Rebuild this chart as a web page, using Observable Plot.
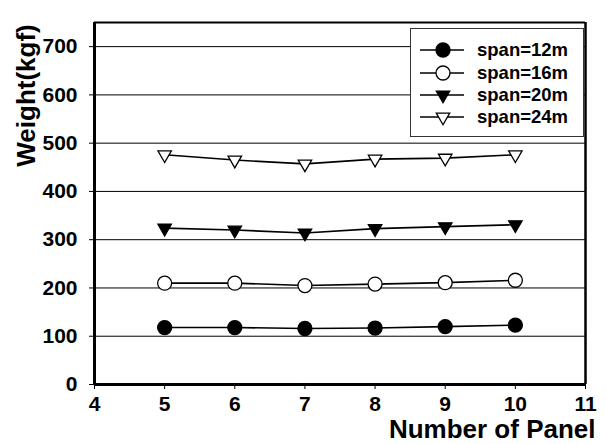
<!DOCTYPE html>
<html><head><meta charset="utf-8">
<script src="https://cdn.jsdelivr.net/npm/d3@7"></script>
<script src="https://cdn.jsdelivr.net/npm/@observablehq/plot@0.6"></script>
<style>
body{margin:0;background:#fff;font-family:"Liberation Sans",Arial,sans-serif;}
#wrap{position:relative;width:606px;height:444px;}
#legend{position:absolute;left:410px;top:28px;width:174px;height:109px;border:1px solid #333;background:#fff;box-sizing:border-box;padding-top:10px;}
.row{display:flex;align-items:center;height:22.4px;}
.row span{font-weight:bold;font-size:18.5px;margin-left:8px;}
</style></head><body>
<div id="wrap"><div id="chart"></div><div id="legend"></div></div>
<script>
const panels = [5, 6, 7, 8, 9, 10];
const spans = ["span=12m", "span=16m", "span=20m", "span=24m"];
const span12 = [118, 118, 116, 117, 120, 123];
const span16 = [210, 210, 205, 208, 211, 216];
const span20 = [324, 320, 314, 323, 327, 331];
const span24 = [476, 465, 457, 467, 469, 476];
const xTicks = [4, 5, 6, 7, 8, 9, 10, 11];
const yTicks = [0, 100, 200, 300, 400, 500, 600, 700];

const series = [span12, span16, span20, span24];
const styles = [
  {symbol: "circle", fill: "black", rotate: 0},
  {symbol: "circle", fill: "white", rotate: 0},
  {symbol: "triangle", fill: "black", rotate: 180},
  {symbol: "triangle", fill: "white", rotate: 180}
];
const rows = [];
series.forEach((vals, i) => vals.forEach((v, j) => rows.push({x: panels[j], y: v, s: spans[i], i})));

const marks = [
  Plot.ruleY(yTicks, {stroke: "black", strokeWidth: 1}),
  Plot.ruleY([750], {stroke: "black", strokeWidth: 2}),
  Plot.ruleX([11], {stroke: "black", strokeWidth: 2.5}),
  Plot.ruleX([4], {stroke: "black", strokeWidth: 3}),
  Plot.ruleY([0], {stroke: "black", strokeWidth: 3}),
  Plot.line(rows, {x: "x", y: "y", z: "s", stroke: "black", strokeWidth: 1.6})
];
styles.forEach((st, i) => {
  marks.push(Plot.dot(rows.filter(d => d.i === i), {
    x: "x", y: "y", symbol: () => st.symbol, r: st.symbol === "circle" ? 7 : 5,
    fill: st.fill, stroke: "black", strokeWidth: 1.3, rotate: st.rotate
  }));
});
marks.push(
  Plot.text(yTicks, {x: 4, y: d => d, dx: -17, textAnchor: "end", fontSize: 21, fontWeight: "bold", fill: "black"}),
  Plot.text(xTicks, {x: d => d, frameAnchor: "bottom", dy: 26, fontSize: 21, fontWeight: "bold", fill: "black"}),
  Plot.text(["Weight(kgf)"], {frameAnchor: "left", textAnchor: "middle", dx: -68, dy: -108, rotate: -90, fontSize: 26, fontWeight: "bold", fill: "black"}),
  Plot.text(["Number of Panel"], {frameAnchor: "bottom-right", textAnchor: "end", dx: 10, dy: 53, fontSize: 26, fontWeight: "bold", fill: "black"})
);

const chart = Plot.plot({
  width: 606, height: 444,
  marginLeft: 94, marginRight: 21, marginTop: 22, marginBottom: 60,
  x: {type: "linear", domain: [4, 11], axis: "bottom", ticks: xTicks, tickSize: 5, tickFormat: () => "", label: null},
  y: {type: "linear", domain: [0, 750], axis: "left", ticks: yTicks, tickSize: 5, tickFormat: () => "", label: null},
  style: {fontFamily: "Liberation Sans, Arial, sans-serif", color: "black", background: "white", overflow: "visible"},
  marks
});
document.getElementById("chart").appendChild(chart);

const leg = document.getElementById("legend");
spans.forEach((name, i) => {
  const st = styles[i];
  const row = document.createElement("div");
  row.className = "row";
  const svg = d3.create("svg").attr("width", 50).attr("height", 20).style("margin-left", "8px");
  svg.append("line").attr("x1", 1).attr("x2", 45).attr("y1", 10).attr("y2", 10).attr("stroke", "black").attr("stroke-width", 1.6);
  const sym = st.symbol === "circle" ? d3.symbolCircle : d3.symbolTriangle;
  const size = st.symbol === "circle" ? Math.PI * 7 * 7 : Math.PI * 25;
  svg.append("path").attr("d", d3.symbol(sym, size)()).attr("transform", `translate(24,10) rotate(${st.rotate})`)
    .attr("fill", st.fill).attr("stroke", "black").attr("stroke-width", 1.3);
  row.appendChild(svg.node());
  const t = document.createElement("span");
  t.textContent = name;
  row.appendChild(t);
  leg.appendChild(row);
});
</script>
</body></html>
